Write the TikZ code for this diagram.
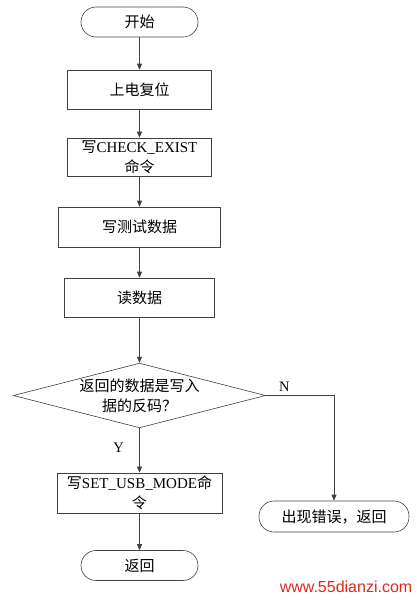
\documentclass[tikz,border=0pt]{standalone}
\usepackage{fontspec}
\setmainfont{Liberation Serif}
\newfontfamily\cjk{Noto Sans CJK SC}
\newfontfamily\wmfont{Liberation Sans}
\usepackage{tikz}
\usetikzlibrary{positioning,shapes.geometric,arrows.meta}
\definecolor{linegray}{HTML}{404040}
\definecolor{wmred}{HTML}{E3261F}
\tikzset{
  flowstart/.style={draw=linegray, rectangle, rounded corners=15pt, minimum width=117pt, minimum height=30pt, align=center},
  flowprocess/.style={draw=linegray, rectangle, inner sep=1pt, align=center},
  flowdecision/.style={draw=linegray, diamond, aspect=3.9, inner sep=0pt, align=center},
  arrow/.style={-{Triangle[length=6pt,width=5pt]}, draw=linegray, line width=0.6pt},
  lab/.style={font=\fontsize{14.5}{16}\selectfont}
}
\newcommand{\zh}[1]{{\cjk #1}}

\begin{document}
\begin{tikzpicture}[x=1pt,y=-1pt,line width=0.6pt,font=\fontsize{15}{20}\selectfont]
  \useasboundingbox (0,0) rectangle (416,600);
  \node[flowstart] (start) at (139.5,22) {\zh{开始}};
  \node[flowprocess, minimum width=144pt, minimum height=39pt] (reset) at (139.5,89.5) {\zh{上电复位}};
  \node[flowprocess, minimum width=144pt, minimum height=38pt] (check) at (139.5,157) {\zh{写}CHECK\_EXIST\\\zh{命令}};
  \node[flowprocess, minimum width=162pt, minimum height=40pt] (testw) at (139.5,227) {\zh{写测试数据}};
  \node[flowprocess, minimum width=150pt, minimum height=39pt] (read) at (139.5,297.5) {\zh{读数据}};
  \node[flowdecision] (dec) at (139.5,395.5) {\zh{返回的数据是写入}\\\zh{据的反码？}};
  \node[flowprocess, minimum width=165pt, minimum height=40pt] (usb) at (139.5,493) {\zh{写}SET\_USB\_MODE\zh{命}\\\zh{令}};
  \node[flowstart] (ret) at (139.5,565.5) {\zh{返回}};
  \node[flowstart, minimum width=150pt, minimum height=31pt] (err) at (334,516.5) {\zh{出现错误，返回}};

  \draw[arrow] (start) -- (reset);
  \draw[arrow] (reset) -- (check);
  \draw[arrow] (check) -- (testw);
  \draw[arrow] (testw) -- (read);
  \draw[arrow] (read) -- (dec);
  \draw[arrow] (dec.south) -- node[lab, pos=0.45, left=12pt] {Y} (usb.north);
  \draw[arrow] (usb) -- (ret);
  \draw[arrow] (dec.east) -- node[lab, above, pos=0.27] {N} (dec.east -| err.north) -- (err.north);

  \node[text=wmred, font=\wmfont\fontsize{16}{18}\selectfont] (wm) at (346,587) {www.55dianzi.com};
\end{tikzpicture}
\end{document}
